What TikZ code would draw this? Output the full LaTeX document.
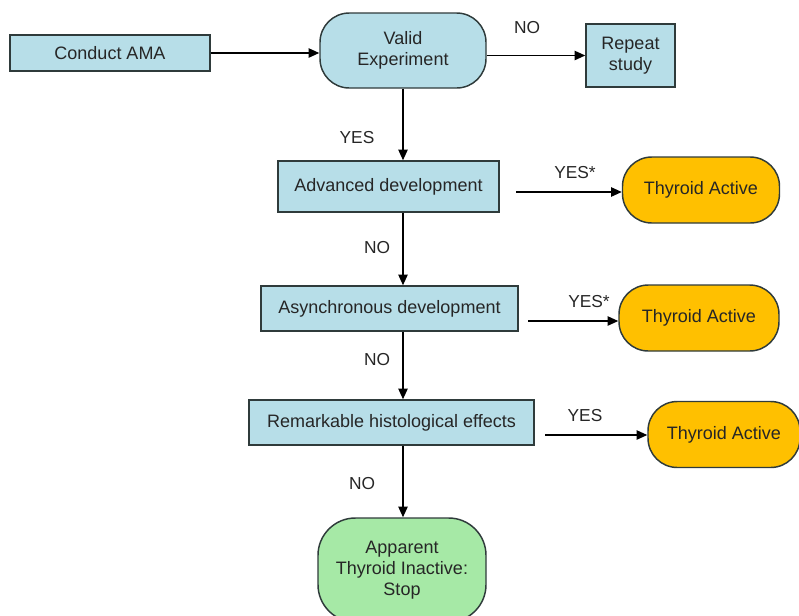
\documentclass[tikz,border=0pt]{standalone}
\usepackage{fontspec}
\setmainfont{Liberation Sans}
\usetikzlibrary{arrows.meta}
\definecolor{boxblue}{HTML}{B7DEE8}
\definecolor{boxedge}{HTML}{2F3B3B}
\definecolor{active}{HTML}{FFC000}
\definecolor{inactive}{HTML}{A6E9A6}
\newcommand\px[1]{#1*0.75pt}
\tikzset{
  every node/.style={font=\fontsize{13.5}{15.75}\selectfont, text=black!85},
  stepbox/.style={draw=boxedge, fill=boxblue, line width=1.1pt, align=center, inner sep=0pt},
  pill/.style={stepbox, rounded corners=22pt},
  flow/.style={line width=1.1pt, -{Triangle[length=8pt,width=7pt]}},
  answer/.style={font=\fontsize{13}{15}\selectfont},
}

\begin{document}
\begin{tikzpicture}[x=0.75pt,y=-0.75pt]
\useasboundingbox (0,0) rectangle (799,615);
\clip (0,0) rectangle (799,615);
% main column
\node[stepbox, minimum width=\px{200}, minimum height=\px{36}] (ama) at (110,53) {Conduct AMA};
\node[pill, minimum width=\px{166}, minimum height=\px{75}] (valid) at (403,50.5) {Valid\\Experiment};
\node[stepbox, minimum width=\px{89}, minimum height=\px{63}] (repeat) at (630.5,55.5) {Repeat\\study};
\node[stepbox, minimum width=\px{221}, minimum height=\px{51}] (adv) at (388.5,186.5) {Advanced development};
\node[stepbox, minimum width=\px{257}, minimum height=\px{45}] (async) at (389.5,308.5) {Asynchronous development};
\node[stepbox, minimum width=\px{285}, minimum height=\px{45}] (histo) at (391.5,422.5) {Remarkable histological effects};
\node[pill, rounded corners=28pt, fill=inactive, minimum width=\px{168}, minimum height=\px{104}] (stop) at (402,570) {Apparent\\Thyroid Inactive:\\Stop};

\draw[flow] (ama) -- (ama -| valid.west);
\draw[flow] (valid.east |- repeat) -- (repeat.west);
\draw[flow] (valid.south) -- (valid.south |- adv.north);
\draw[flow] (valid.south |- adv.south) -- (valid.south |- async.north);
\draw[flow] (valid.south |- async.south) -- (valid.south |- histo.north);
\draw[flow] (valid.south |- histo.south) -- (valid.south |- stop.north);

% thyroid active branches
\foreach \gap/\ya/\x/\y/\w [count=\k] in {516/192/701/190/157, 528/321/699/318/160, 545/435/724/434.5/152}
{
  \node[pill, fill=active, minimum width=\px{\w}, minimum height=\px{66}] (active\k) at (\x,\y) {Thyroid Active};
  \coordinate (from\k) at (\gap,\ya);
  \draw[flow] (from\k) -- (from\k -| active\k.west);
}

\foreach \txt/\x/\y [count=\k] in {NO/527/28, YES/357/138, YES*/575/173, NO/377/248, YES*/589/302, NO/377/360, YES/585/416, NO/362/484}
  \node[answer] (answer\k) at (\x,\y) {\txt};
\end{tikzpicture}
\end{document}
